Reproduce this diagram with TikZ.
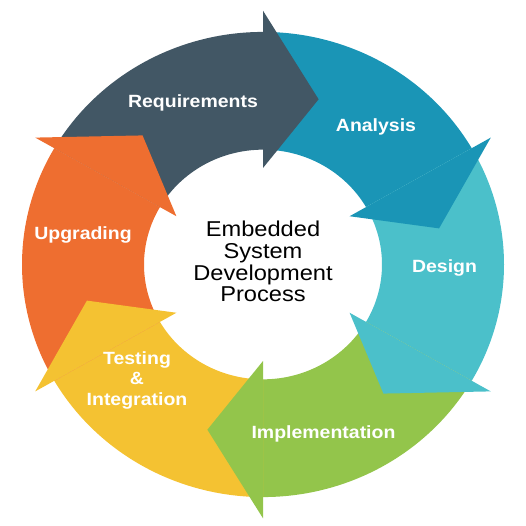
\documentclass[tikz,border=0pt]{standalone}
\usepackage{fontspec}
\newfontfamily\labfont{Liberation Sans}[FakeStretch=1.1]
\definecolor{req}{HTML}{425765}
\definecolor{ana}{HTML}{1A95B6}
\definecolor{des}{HTML}{4BC0CA}
\definecolor{imp}{HTML}{93C54B}
\definecolor{tst}{HTML}{F4C232}
\definecolor{upg}{HTML}{EE6E30}
\begin{document}
\begin{tikzpicture}[x=1pt,y=1pt,
  lab/.style={text=white,font=\labfont\bfseries\fontsize{17.7}{20.5}\selectfont,anchor=base,align=center,inner sep=0pt},
  ctr/.style={text=black,font=\labfont\fontsize{21.5}{21.7}\selectfont,anchor=base,align=center,inner sep=0pt}]
\useasboundingbox (-263,-261.5) rectangle (263,264.5);
\begin{scope}[yscale=0.965]
\foreach \a/\c in {150/req,90/ana,30/des,-30/imp,-90/tst,-150/upg} {
  \fill[\c] (\a:241) arc[start angle=\a, end angle={\a-60}, radius=241]
    -- ({\a-60}:119) arc[start angle={\a-60}, end angle=\a, radius=119] -- cycle;
}
\foreach \a/\c in {150/req,90/ana,30/des,-30/imp,-90/tst,-150/upg} {
  \fill[\c] ({\a-60}:263) -- ({\a-78}:180) -- ({\a-60}:100) -- cycle;
}
\end{scope}
\node[lab] (lreq) at (-70,156.8) {Requirements};
\node[lab] (lana) at (113,132.5) {Analysis};
\node[lab] (ldes) at (181.5,-8.5) {Design};
\node[lab] (limp) at (60.5,-174) {Implementation};
\node[lab] (ltst) at (-126,-141) {Testing\\\&\\Integration};
\node[lab] (lupg) at (-180,24.5) {Upgrading};
\node[ctr] (center) at (0,-37.5) {Embedded\\System\\Development\\Process};
\end{tikzpicture}
\end{document}
